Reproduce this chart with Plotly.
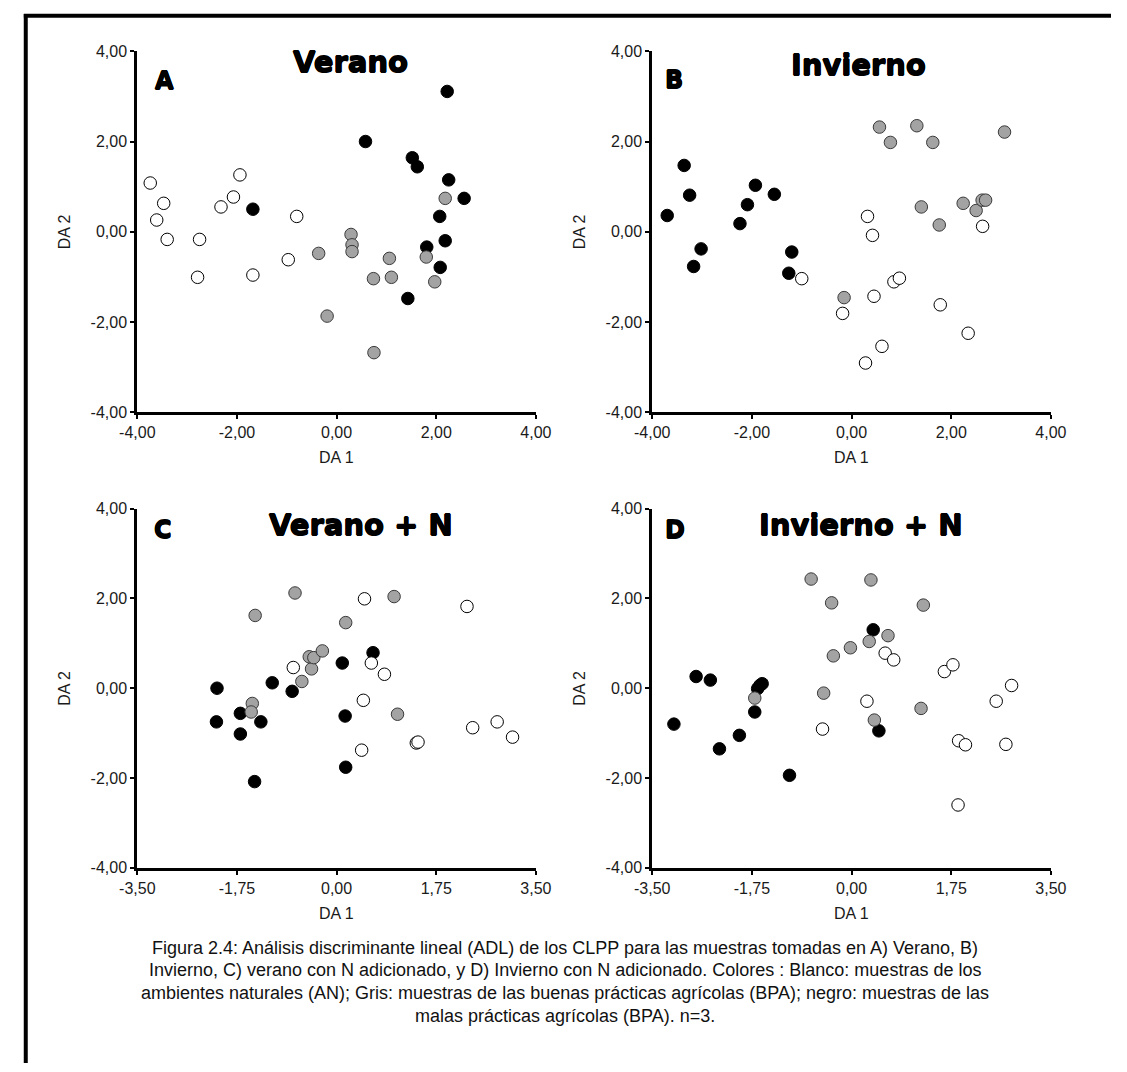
import plotly.graph_objects as go

# ---------------- figure size ----------------
W, H = 1127, 1072

# ---------------- data: discriminant scores (DA 1, DA 2) ----------------
# AN = ambientes naturales (blanco), BPA = buenas prácticas (gris), MPA = malas prácticas (negro)

# A) Verano
verano_an_x = [-3.74, -3.47, -3.61, -3.40, -2.75, -2.79, -2.32, -2.07, -1.94, -1.68, -0.80, -0.97]
verano_an_y = [1.08, 0.63, 0.26, -0.17, -0.17, -1.01, 0.55, 0.77, 1.26, -0.96, 0.34, -0.62]
verano_bpa_x = [-0.36, 0.29, 0.31, 0.31, -0.19, 0.74, 1.06, 1.10, 0.75, 2.18, 1.80, 1.97]
verano_bpa_y = [-0.48, -0.06, -0.29, -0.44, -1.87, -1.04, -0.59, -1.01, -2.68, 0.74, -0.56, -1.11]
verano_mpa_x = [-1.68, 0.58, 2.22, 1.52, 1.62, 2.25, 2.56, 2.07, 2.18, 1.81, 2.08, 1.43]
verano_mpa_y = [0.50, 2.00, 3.11, 1.64, 1.44, 1.15, 0.74, 0.34, -0.20, -0.34, -0.79, -1.48]

# B) Invierno
invierno_an_x = [-1.00, 0.32, 0.42, -0.18, 0.45, 0.85, 0.96, 0.61, 0.28, 1.78, 2.34, 2.63]
invierno_an_y = [-1.04, 0.34, -0.08, -1.81, -1.43, -1.11, -1.03, -2.54, -2.91, -1.62, -2.25, 0.12]
invierno_bpa_x = [-0.15, 0.56, 0.78, 1.31, 1.63, 3.07, 1.40, 1.76, 2.24, 2.50, 2.62, 2.69]
invierno_bpa_y = [-1.46, 2.32, 1.98, 2.35, 1.98, 2.21, 0.55, 0.15, 0.63, 0.47, 0.70, 0.70]
invierno_mpa_x = [-3.70, -3.36, -3.25, -3.02, -3.17, -2.24, -2.09, -1.93, -1.55, -1.20, -1.26]
invierno_mpa_y = [0.36, 1.47, 0.81, -0.38, -0.77, 0.18, 0.60, 1.03, 0.83, -0.45, -0.92]

# C) Verano + N
verano_n_an_x = [-0.76, 0.61, 0.84, 0.47, 0.44, 1.40, 1.43, 2.39, 2.82, 3.09, 2.29, 0.49]
verano_n_an_y = [0.46, 0.56, 0.31, -0.27, -1.38, -1.22, -1.20, -0.88, -0.75, -1.09, 1.82, 1.99]
verano_n_bpa_x = [-1.48, -1.50, -0.61, -0.44, -0.48, -0.40, -0.25, 1.07, -1.43, 0.16, -0.73, 1.01]
verano_n_bpa_y = [-0.34, -0.53, 0.15, 0.43, 0.70, 0.68, 0.83, -0.58, 1.62, 1.46, 2.12, 2.04]
verano_n_mpa_x = [-2.10, -2.11, -1.69, -1.69, -1.33, -1.44, -1.13, -0.78, 0.10, 0.64, 0.15, 0.16]
verano_n_mpa_y = [0.00, -0.75, -0.56, -1.02, -0.75, -2.08, 0.12, -0.07, 0.56, 0.79, -0.62, -1.76]

# D) Invierno + N
invierno_n_an_x = [-0.51, 0.27, 0.59, 0.74, 1.63, 1.78, 1.88, 2.00, 1.87, 2.54, 2.81, 2.71]
invierno_n_an_y = [-0.91, -0.29, 0.78, 0.63, 0.37, 0.52, -1.17, -1.26, -2.60, -0.29, 0.06, -1.25]
invierno_n_bpa_x = [-1.70, -0.49, -0.32, -0.02, 0.31, 0.64, 0.40, 1.22, -0.71, 0.34, -0.35, 1.26]
invierno_n_bpa_y = [-0.22, -0.11, 0.72, 0.90, 1.04, 1.17, -0.71, -0.45, 2.43, 2.41, 1.90, 1.85]
invierno_n_mpa_x = [-3.12, -2.73, -2.48, -2.32, -1.97, -1.70, -1.65, -1.61, -1.57, -1.09, 0.38, 0.48]
invierno_n_mpa_y = [-0.80, 0.26, 0.18, -1.35, -1.05, -0.53, -0.01, 0.06, 0.10, -1.94, 1.30, -0.95]

# ---------------- tick values / labels ----------------
ticks_y = [-4, -2, 0, 2, 4]
ticks_y_text = ["-4,00", "-2,00", "0,00", "2,00", "4,00"]
ticks_x_top = [-4, -2, 0, 2, 4]
ticks_x_top_text = ["-4,00", "-2,00", "0,00", "2,00", "4,00"]
ticks_x_bottom = [-3.5, -1.75, 0, 1.75, 3.5]
ticks_x_bottom_text = ["-3,50", "-1,75", "0,00", "1,75", "3,50"]

panel_titles = ["Verano", "Invierno", "Verano + N", "Invierno + N"]
panel_letters = ["A", "B", "C", "D"]

caption_lines = [
    "Figura 2.4: Análisis discriminante lineal (ADL) de los CLPP para las muestras tomadas en A) Verano, B)",
    "Invierno, C) verano con N adicionado, y D) Invierno con N adicionado. Colores : Blanco: muestras de los",
    "ambientes naturales (AN); Gris: muestras de las buenas prácticas agrícolas (BPA); negro: muestras de las",
    "malas prácticas agrícolas (BPA). n=3.",
]

# ---------------- layout helpers (pixel -> paper) ----------------
def px(x):
    return x / W

def py(y):
    return 1 - y / H

LEFT_X = (123, 534)
RIGHT_X = (654, 1065)
TOP_Y = (44, 410.7)
BOT_Y = (508.6, 873.7)

TICK_FONT = dict(family="Liberation Sans, Arial, sans-serif", size=16, color="#1a1a1a")
HEAVY = "'DejaVu Sans', Roboto, sans-serif"
# slight outline to give the bold headings a heavier, poster-like stroke
THICK = "0.6px 0 0 #000, -0.6px 0 0 #000, 0 0.6px 0 #000, 0 -0.6px 0 #000"

panels = [
    dict(xd=LEFT_X, yd=TOP_Y, rng=[-4, 4], tv=ticks_x_top, tt=ticks_x_top_text,
         groups=[(verano_mpa_x, verano_mpa_y), (verano_bpa_x, verano_bpa_y), (verano_an_x, verano_an_y)],
         title_xy=(343, 55), letter_xy=(151, 74)),
    dict(xd=RIGHT_X, yd=TOP_Y, rng=[-4, 4], tv=ticks_x_top, tt=ticks_x_top_text,
         groups=[(invierno_mpa_x, invierno_mpa_y), (invierno_bpa_x, invierno_bpa_y), (invierno_an_x, invierno_an_y)],
         title_xy=(867, 58), letter_xy=(676, 73)),
    dict(xd=LEFT_X, yd=BOT_Y, rng=[-3.5, 3.5], tv=ticks_x_bottom, tt=ticks_x_bottom_text,
         groups=[(verano_n_mpa_x, verano_n_mpa_y), (verano_n_bpa_x, verano_n_bpa_y), (verano_n_an_x, verano_n_an_y)],
         title_xy=(354, 525), letter_xy=(149, 530)),
    dict(xd=RIGHT_X, yd=BOT_Y, rng=[-3.5, 3.5], tv=ticks_x_bottom, tt=ticks_x_bottom_text,
         groups=[(invierno_n_mpa_x, invierno_n_mpa_y), (invierno_n_bpa_x, invierno_n_bpa_y), (invierno_n_an_x, invierno_n_an_y)],
         title_xy=(869, 525), letter_xy=(677, 530)),
]

# marker styles: negro (MPA), gris (BPA), blanco (AN)
styles = [
    dict(color="#000000", line=dict(color="#000000", width=1)),
    dict(color="#a3a3a3", line=dict(color="#3a3a3a", width=1)),
    dict(color="#ffffff", line=dict(color="#000000", width=1)),
]

fig = go.Figure()
layout = dict(
    width=W, height=H,
    margin=dict(l=0, r=0, t=0, b=0),
    paper_bgcolor="white", plot_bgcolor="white",
    showlegend=False,
)
annotations = []

for i, p in enumerate(panels, start=1):
    suffix = "" if i == 1 else str(i)
    xa, ya = "x" + suffix, "y" + suffix
    for (gx, gy), st in zip(p["groups"], styles):
        fig.add_trace(go.Scatter(
            x=gx, y=gy, mode="markers", xaxis=xa, yaxis=ya,
            marker=dict(size=12.5, color=st["color"], line=st["line"]),
            cliponaxis=False, hoverinfo="x+y",
        ))
    common = dict(showgrid=False, zeroline=False, showline=True, linecolor="black",
                  linewidth=3, ticks="outside", ticklen=4, tickwidth=2, tickcolor="black",
                  tickfont=TICK_FONT, fixedrange=True)
    layout["xaxis" + suffix] = dict(
        common, domain=[px(p["xd"][0]), px(p["xd"][1])], range=p["rng"],
        tickmode="array", tickvals=p["tv"], ticktext=p["tt"], anchor=ya,
    )
    layout["yaxis" + suffix] = dict(
        common, domain=[py(p["yd"][1]), py(p["yd"][0])], range=[-4, 4],
        tickmode="array", tickvals=ticks_y, ticktext=ticks_y_text, anchor=xa,
    )
    # axis titles
    cx = (p["xd"][0] + p["xd"][1]) / 2
    annotations.append(dict(text="DA 1", x=px(cx), y=py(p["yd"][1] + 46), xref="paper", yref="paper",
                            showarrow=False, xanchor="center", yanchor="middle", font=TICK_FONT))
    annotations.append(dict(text="DA 2", x=px(p["xd"][0] - 75), y=py((p["yd"][0] + p["yd"][1]) / 2),
                            xref="paper", yref="paper", textangle=-90, showarrow=False,
                            xanchor="center", yanchor="middle", font=TICK_FONT))
    # panel title and letter
    tx, ty = p["title_xy"]
    annotations.append(dict(text=panel_titles[i - 1], x=px(tx), y=py(ty), xref="paper", yref="paper",
                            showarrow=False, xanchor="center", yanchor="middle",
                            font=dict(family=HEAVY, size=29, color="black", weight="bold", shadow=THICK)))
    lx, ly = p["letter_xy"]
    annotations.append(dict(text=panel_letters[i - 1], x=px(lx), y=py(ly), xref="paper", yref="paper",
                            showarrow=False, xanchor="center", yanchor="middle",
                            font=dict(family=HEAVY, size=24, color="black", weight="bold", shadow=THICK)))

# caption
for line, yy in zip(caption_lines, [955, 978, 1001, 1024.5]):
    annotations.append(dict(text=line, x=0.5, y=py(yy), xref="paper", yref="paper", showarrow=False,
                            xanchor="center", yanchor="middle",
                            font=dict(family="Liberation Sans, Arial, sans-serif", size=18, color="#111111")))

layout["annotations"] = annotations
# outer frame (left and top edges)
layout["shapes"] = [
    dict(type="line", xref="paper", yref="paper", x0=px(8), x1=px(8), y0=py(6), y1=py(H), line=dict(color="black", width=4)),
    dict(type="line", xref="paper", yref="paper", x0=px(6), x1=px(W), y0=py(8), y1=py(8), line=dict(color="black", width=4)),
]

fig.update_layout(**layout)
fig.write_html(
    "out.html",
    post_script="document.body.style.margin='0px';document.body.style.overflow='hidden';",
)
